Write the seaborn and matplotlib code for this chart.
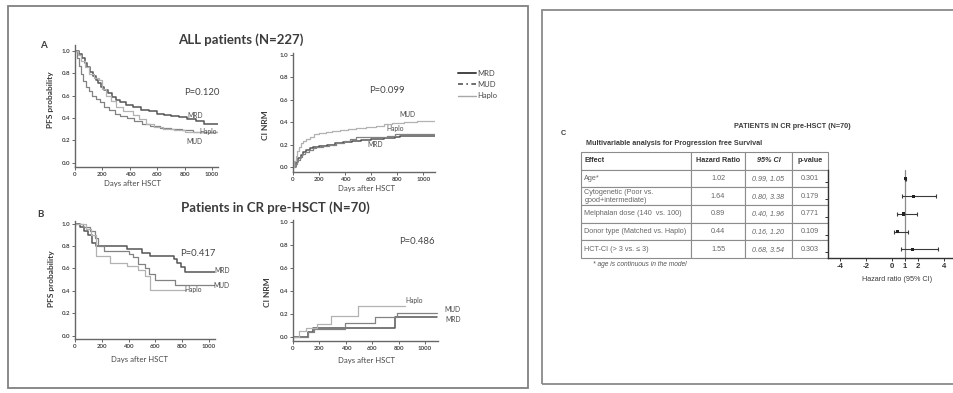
import matplotlib

matplotlib.use("Agg")
import matplotlib.pyplot as plt
import numpy as np
import pandas as pd
import seaborn as sns
from matplotlib.lines import Line2D
from matplotlib.patches import Rectangle

# ---- data ---------------------------------------------------------------
donors = ["MRD", "MUD", "Haplo"]

# A: all patients, PFS
a_pfs_mrd_t = [0, 30, 50, 70, 90, 110, 130, 150, 170, 190, 215, 240, 270, 300, 330, 370, 420, 480, 540, 600, 650, 700, 760, 820, 880, 940, 1045]
a_pfs_mrd_v = [1.0, 0.97, 0.93, 0.89, 0.85, 0.81, 0.77, 0.74, 0.71, 0.68, 0.65, 0.62, 0.59, 0.56, 0.54, 0.52, 0.50, 0.47, 0.46, 0.44, 0.43, 0.42, 0.41, 0.39, 0.37, 0.35, 0.35]
a_pfs_mud_t = [0, 15, 30, 45, 60, 80, 100, 125, 150, 180, 210, 250, 290, 330, 380, 430, 490, 550, 620, 700, 780, 860, 1045]
a_pfs_mud_v = [1.0, 0.93, 0.86, 0.79, 0.73, 0.68, 0.64, 0.60, 0.57, 0.54, 0.50, 0.47, 0.44, 0.42, 0.40, 0.37, 0.35, 0.33, 0.31, 0.30, 0.29, 0.28, 0.28]
a_pfs_haplo_t = [0, 20, 45, 70, 100, 140, 175, 200, 225, 260, 300, 350, 420, 470, 520, 580, 640, 720, 800, 1045]
a_pfs_haplo_v = [1.0, 0.96, 0.91, 0.85, 0.79, 0.76, 0.74, 0.66, 0.60, 0.55, 0.50, 0.46, 0.43, 0.39, 0.35, 0.32, 0.30, 0.29, 0.28, 0.28]

# A: all patients, cumulative incidence of NRM
a_nrm_mrd_t = [0, 20, 40, 60, 80, 100, 130, 150, 200, 260, 320, 380, 450, 520, 600, 700, 780, 820, 1090]
a_nrm_mrd_v = [0, 0.04, 0.08, 0.11, 0.13, 0.15, 0.17, 0.18, 0.19, 0.20, 0.21, 0.22, 0.23, 0.24, 0.25, 0.26, 0.27, 0.28, 0.28]
a_nrm_mud_t = [0, 15, 30, 50, 70, 90, 120, 150, 180, 230, 280, 330, 390, 440, 480, 720, 780, 1090]
a_nrm_mud_v = [0, 0.03, 0.06, 0.09, 0.12, 0.13, 0.15, 0.17, 0.18, 0.19, 0.20, 0.21, 0.23, 0.25, 0.27, 0.28, 0.29, 0.29]
a_nrm_haplo_t = [0, 10, 20, 30, 45, 60, 80, 100, 130, 160, 200, 250, 300, 360, 420, 480, 560, 640, 700, 760, 850, 950, 1090]
a_nrm_haplo_v = [0, 0.05, 0.10, 0.14, 0.18, 0.21, 0.23, 0.25, 0.27, 0.29, 0.30, 0.31, 0.32, 0.33, 0.34, 0.35, 0.36, 0.37, 0.38, 0.39, 0.40, 0.41, 0.41]

# B: patients in CR, PFS
b_pfs_mrd_t = [0, 40, 70, 100, 130, 160, 390, 500, 560, 740, 760, 790, 820, 1045]
b_pfs_mrd_v = [1.0, 0.97, 0.93, 0.90, 0.83, 0.80, 0.77, 0.74, 0.71, 0.68, 0.65, 0.61, 0.57, 0.57]
b_pfs_mud_t = [0, 60, 110, 150, 175, 220, 400, 430, 470, 520, 555, 600, 750, 1045]
b_pfs_mud_v = [1.0, 0.97, 0.93, 0.87, 0.80, 0.76, 0.73, 0.70, 0.64, 0.60, 0.55, 0.50, 0.45, 0.45]
b_pfs_haplo_t = [0, 80, 120, 160, 260, 390, 470, 520, 560, 830]
b_pfs_haplo_v = [1.0, 0.95, 0.90, 0.71, 0.65, 0.62, 0.59, 0.53, 0.41, 0.41]

# B: patients in CR, cumulative incidence of NRM
b_nrm_mrd_t = [0, 110, 150, 770, 1090]
b_nrm_mrd_v = [0, 0.04, 0.08, 0.17, 0.17]
b_nrm_mud_t = [0, 110, 160, 390, 620, 790, 1090]
b_nrm_mud_v = [0, 0.04, 0.07, 0.12, 0.17, 0.21, 0.21]
b_nrm_haplo_t = [0, 45, 100, 180, 285, 495, 850]
b_nrm_haplo_v = [0, 0.05, 0.08, 0.11, 0.18, 0.27, 0.27]

# C: multivariable analysis
effects = ["Age*", "Cytogenetic (Poor vs.\ngood+intermediate)", "Melphalan dose (140  vs. 100)",
           "Donor type (Matched vs. Haplo)", "HCT-CI (> 3 vs. \u2264 3)"]
hazard_ratio = [1.02, 1.64, 0.89, 0.44, 1.55]
ci_low = [0.99, 0.80, 0.40, 0.16, 0.68]
ci_high = [1.05, 3.38, 1.96, 1.20, 3.54]
p_values = [0.301, 0.179, 0.771, 0.109, 0.303]

day_ticks = [0, 200, 400, 600, 800, 1000]
prob_ticks = [0.0, 0.2, 0.4, 0.6, 0.8, 1.0]
hr_ticks = [-4, -2, 0, 1, 2, 4]

# ---- styling -------------------------------------------------------------
COLORS = {"MRD": "#555555", "MUD": "#828282", "Haplo": "#b2b2b2"}
WIDTHS = {"MRD": 1.1, "MUD": 0.9, "Haplo": 0.9}
INK = "#3c3c3c"
LEFT_FONT = ["Lato", "DejaVu Sans"]
RIGHT_FONT = ["Liberation Sans", "DejaVu Sans"]

sns.set_theme(style="ticks")
plt.rcParams["font.family"] = LEFT_FONT

W, H = 954, 393


def box(left, top, right, bottom):
    return [left / W, 1 - bottom / H, (right - left) / W, (bottom - top) / H]


def fxy(x, y):
    return x / W, 1 - y / H


def curve_frame(times, values):
    rows = []
    for donor, t, v in zip(donors, times, values):
        rows.append(pd.DataFrame({"day": t, "value": v, "donor": donor}))
    return pd.concat(rows, ignore_index=True)


def draw_km(ax, df, xlim, ylim, ylabel, ylab_xy, xlab_xy, texts):
    sns.lineplot(data=df, x="day", y="value", hue="donor", size="donor",
                 palette=COLORS, sizes=WIDTHS, estimator=None, sort=False,
                 drawstyle="steps-post", legend=False, ax=ax)
    ax.set_xlim(*xlim)
    ax.set_ylim(*ylim)
    ax.set_xticks(day_ticks)
    ax.set_yticks(prob_ticks)
    ax.set_yticklabels([f"{v:.1f}" for v in prob_ticks])
    sns.despine(ax=ax)
    for side in ("left", "bottom"):
        ax.spines[side].set_color("#666666")
        ax.spines[side].set_linewidth(1.0)
    ax.tick_params(length=2, width=0.7, pad=1.5, labelsize=4.4,
                   colors="#666666", labelcolor="#454545")
    for lbl in ax.get_xticklabels() + ax.get_yticklabels():
        lbl.set_fontweight("bold")
    ax.set_ylabel(ylabel, fontsize=6, fontweight="bold", color=INK)
    ax.yaxis.set_label_coords(*ylab_xy)
    ax.set_xlabel("Days after HSCT", fontsize=5.6, color="#454545")
    ax.xaxis.set_label_coords(*xlab_xy)
    for x, y, s, size in texts:
        ax.text(x, y, s, fontsize=size, color="#454545", ha="center",
                va="center", clip_on=False)


fig = plt.figure(figsize=(W / 100, H / 100), dpi=100)

# panel frames
fig.add_artist(Rectangle(fxy(8, 388), 520 / W, 382 / H, transform=fig.transFigure,
                         fill=False, ec="#808080", lw=1.3))
fig.add_artist(Rectangle(fxy(542, 384), 420 / W, 374 / H, transform=fig.transFigure,
                         fill=False, ec="#8a8a8a", lw=1.3))

ax_a1 = fig.add_axes(box(75, 45, 218, 167))
draw_km(ax_a1,
        curve_frame([a_pfs_mrd_t, a_pfs_mud_t, a_pfs_haplo_t],
                    [a_pfs_mrd_v, a_pfs_mud_v, a_pfs_haplo_v]),
        (0, 1044), (-0.036, 1.05), "PFS probability", (-0.15, 0.55), (0.40, -0.105),
        [(925, 0.63, "P=0.120", 6.8), (880, 0.42, "MRD", 4.8),
         (975, 0.28, "Haplo", 4.8), (875, 0.19, "MUD", 4.8)])

ax_a2 = fig.add_axes(box(293, 53, 435, 172))
draw_km(ax_a2,
        curve_frame([a_nrm_mrd_t, a_nrm_mud_t, a_nrm_haplo_t],
                    [a_nrm_mrd_v, a_nrm_mud_v, a_nrm_haplo_v]),
        (0, 1090), (-0.045, 1.018), "CI NRM", (-0.17, 0.39), (0.52, -0.11),
        [(720, 0.68, "P=0.099", 6.8), (875, 0.47, "MUD", 4.8),
         (785, 0.34, "Haplo", 4.8), (630, 0.20, "MRD", 4.8)])

ax_b1 = fig.add_axes(box(75, 221, 215, 339))
draw_km(ax_b1,
        curve_frame([b_pfs_mrd_t, b_pfs_mud_t, b_pfs_haplo_t],
                    [b_pfs_mrd_v, b_pfs_mud_v, b_pfs_haplo_v]),
        (0, 1045), (-0.029, 1.023), "PFS probability", (-0.14, 0.51), (0.46, -0.143),
        [(915, 0.73, "P=0.417", 6.8), (1095, 0.58, "MRD", 4.8),
         (1090, 0.45, "MUD", 4.8), (880, 0.41, "Haplo", 4.8)])

ax_b2 = fig.add_axes(box(293, 220, 438, 341))
draw_km(ax_b2,
        curve_frame([b_nrm_mrd_t, b_nrm_mud_t, b_nrm_haplo_t],
                    [b_nrm_mrd_v, b_nrm_mud_v, b_nrm_haplo_v]),
        (0, 1098), (-0.035, 1.015), "CI NRM", (-0.15, 0.40), (0.51, -0.13),
        [(940, 0.83, "P=0.486", 6.8), (1205, 0.235, "MUD", 4.8),
         (1212, 0.15, "MRD", 4.8), (917, 0.32, "Haplo", 4.8)])

handles = [Line2D([], [], color="#444444", lw=1.4),
           Line2D([], [], color="#555555", lw=1.2, ls=(0, (3, 2, 1, 2))),
           Line2D([], [], color="#a8a8a8", lw=1.0)]
fig.legend(handles, donors, loc="upper left", bbox_to_anchor=fxy(454, 66),
           frameon=False, fontsize=5.5, handlelength=2.4, handletextpad=0.1,
           labelspacing=0.55, borderpad=0, labelcolor="#454545")

fig.text(*fxy(241, 40), "ALL patients (N=227)", fontsize=9.5, fontweight="bold",
         color=INK, ha="center", va="center")
fig.text(*fxy(275, 208), "Patients in CR pre-HSCT (N=70)", fontsize=9.5,
         fontweight="bold", color=INK, ha="center", va="center")
fig.text(*fxy(43, 45), "A", fontsize=7, fontweight="bold", color=INK, ha="center", va="center")
fig.text(*fxy(40, 215), "B", fontsize=7, fontweight="bold", color=INK, ha="center", va="center")

# ---- panel C -------------------------------------------------------------
fig.text(*fxy(563, 133), "C", fontsize=5.2, fontweight="bold", color=INK,
         ha="center", va="center", family=RIGHT_FONT)
fig.text(*fxy(792, 126), "PATIENTS IN CR pre-HSCT (N=70)", fontsize=5.2,
         fontweight="bold", color=INK, ha="center", va="center", family=RIGHT_FONT)
fig.text(*fxy(586, 144), "Multivariable analysis for Progression free Survival",
         fontsize=5.2, fontweight="bold", color=INK, ha="left", va="center", family=RIGHT_FONT)
fig.text(*fxy(593, 264), "* age is continuous in the model", fontsize=4.8,
         style="italic", color="#555555", ha="left", va="center", family=RIGHT_FONT)

ax_tab = fig.add_axes(box(581, 152, 828, 258))
ax_tab.axis("off")
cell_text = [[e, f"{h:.2f}", f"{lo:.2f}, {hi:.2f}", f"{p:.3f}"]
             for e, h, lo, hi, p in zip(effects, hazard_ratio, ci_low, ci_high, p_values)]
col_w = np.array([110, 54, 47, 36], dtype=float)
tab = ax_tab.table(cellText=cell_text,
                   colLabels=["Effect", "Hazard Ratio", "95% CI", "p-value"],
                   colWidths=list(col_w / col_w.sum()), cellLoc="center", bbox=[0, 0, 1, 1])
tab.auto_set_font_size(False)
tab.set_fontsize(5.2)
for (r, c), cell in tab.get_celld().items():
    cell.set_edgecolor("#8c8c8c")
    cell.set_linewidth(0.8)
    txt = cell.get_text()
    txt.set_fontfamily(RIGHT_FONT)
    txt.set_color("#666666")
    if c == 0:
        cell._loc = "left"
        cell.PAD = 0.03
        txt.set_horizontalalignment("left")
    if c == 2:
        txt.set_style("italic")
    if r == 0:
        txt.set_fontweight("bold")
        txt.set_color("#333333")

ax_f = fig.add_axes(box(828, 170, 956, 258))
rows = np.arange(len(hazard_ratio))
hr = np.array(hazard_ratio)
ax_f.errorbar(hr, rows, xerr=[hr - np.array(ci_low), np.array(ci_high) - hr], fmt="none",
              ecolor="#3a3a3a", elinewidth=0.8, capsize=1.6, capthick=0.8)
sns.scatterplot(x=hr, y=rows, marker="s", s=5, color="#222222", edgecolor="none",
                ax=ax_f, zorder=3)
ax_f.axvline(1, color="#8a8a8a", lw=0.9, zorder=1)
ax_f.set_xlim(-4.92, 4.92)
ax_f.set_ylim(len(hazard_ratio) - 0.5, -0.5)
ax_f.set_yticks(rows + 0.17)
ax_f.set_yticklabels([])
ax_f.set_xticks(hr_ticks)
ax_f.set_xticklabels([str(t) for t in hr_ticks])
sns.despine(ax=ax_f)
for side in ("left", "bottom"):
    ax_f.spines[side].set_color("#333333")
    ax_f.spines[side].set_linewidth(1.0)
ax_f.tick_params(length=2, width=0.7, pad=1.5, labelsize=5.6, colors="#333333")
for lbl in ax_f.get_xticklabels():
    lbl.set_fontweight("bold")
    lbl.set_fontfamily(RIGHT_FONT)
ax_f.set_xlabel("Hazard ratio (95% CI)", fontsize=5.2, color=INK, family=RIGHT_FONT)
ax_f.xaxis.set_label_coords(0.54, -0.2)

fig.savefig("out.png", dpi=100)
